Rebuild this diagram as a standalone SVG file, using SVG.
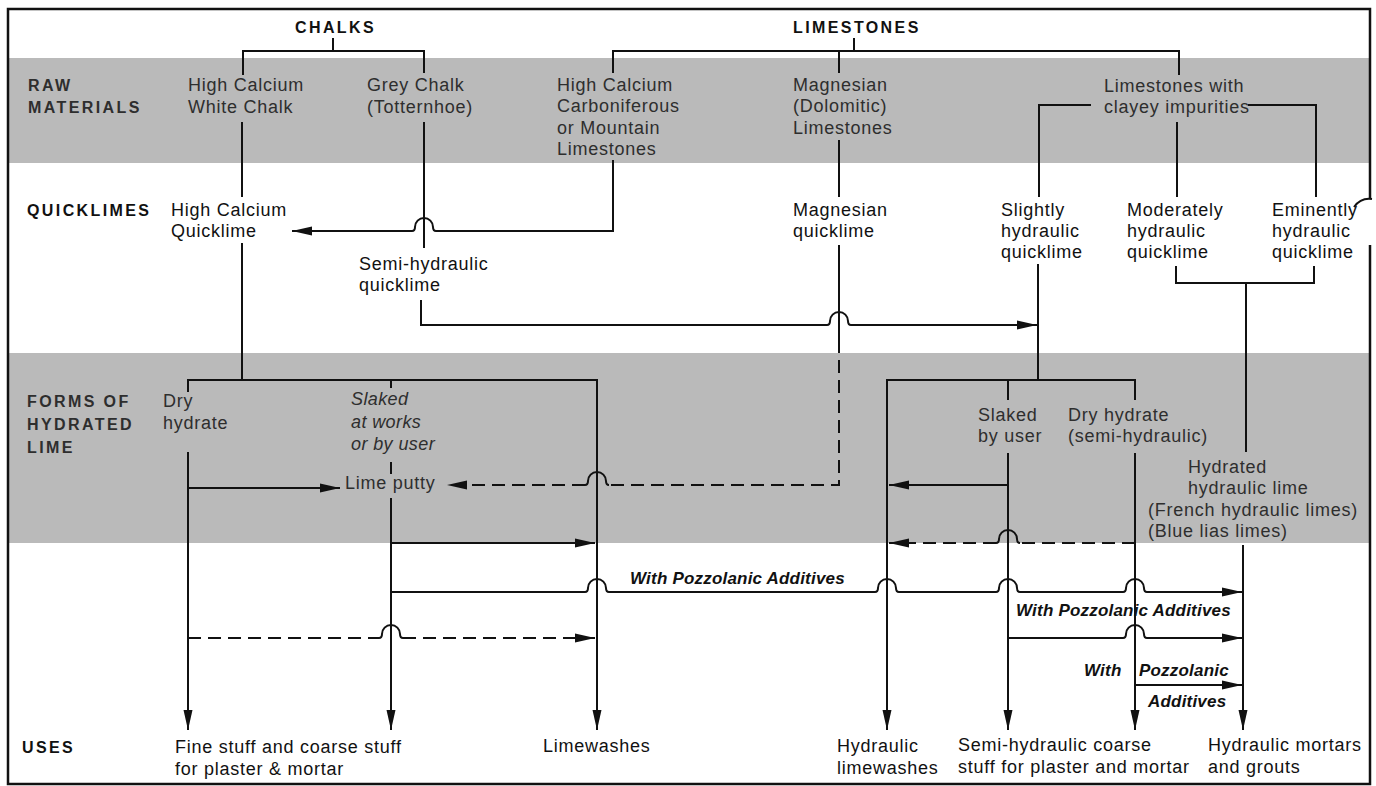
<svg xmlns="http://www.w3.org/2000/svg" width="1376" height="786" viewBox="0 0 1376 786">
<defs>
<style>
.t{font-family:"Liberation Sans",Arial,sans-serif;font-size:18px;letter-spacing:0.75px;fill:#111}
.g{fill:#2e2e2e}
.b{font-weight:bold;font-size:16px;letter-spacing:2.4px}
.i{font-style:italic;letter-spacing:0.4px}
.p{font-style:italic;font-weight:bold;font-size:17px;letter-spacing:0.2px}
.c{fill:none;stroke:#111;stroke-width:2}
.d{stroke-dasharray:13 7}
.a{marker-end:url(#ah)}
</style>
<marker id="ah" viewBox="0 0 20 10" refX="20" refY="5" markerWidth="20" markerHeight="10" markerUnits="userSpaceOnUse" orient="auto">
<path d="M0,0.5 L20,5 L0,9.5 Z" fill="#111"/>
</marker>
</defs>
<rect x="0" y="0" width="1376" height="786" fill="#fff"/>
<g id="bands">
<rect x="9" y="58" width="1360" height="105" fill="#bababa"/>
<rect x="9" y="353" width="1360" height="190" fill="#bababa"/>
</g>
<g id="frame" fill="none" stroke="#111" stroke-width="2.5">
<path d="M1370,245 V784 H8 V9 H1370 V198"/>
<path d="M1354,207 C1359,200 1365,198 1372,199" stroke-width="2"/>
</g>
<g id="row-labels" class="t b">
<text x="28" y="91" class="t b g">RAW</text>
<text x="28" y="113" class="t b g">MATERIALS</text>
<text x="27" y="216" class="t b">QUICKLIMES</text>
<text x="27" y="407" class="t b g">FORMS OF</text>
<text x="27" y="430" class="t b g">HYDRATED</text>
<text x="27" y="453" class="t b g">LIME</text>
<text x="22" y="753" class="t b">USES</text>
</g>
<g id="chalks"><text x="295" y="33" class="t b">CHALKS</text></g>
<g id="limestones"><text x="793" y="33" class="t b">LIMESTONES</text></g>
<g id="hc-white-chalk"><text class="t g" x="188" y="91">High Calcium</text><text class="t g" x="188" y="113">White Chalk</text></g>
<g id="grey-chalk"><text class="t g" x="367" y="91">Grey Chalk</text><text class="t g" x="367" y="113">(Totternhoe)</text></g>
<g id="hc-carboniferous"><text class="t g" x="557" y="91">High Calcium</text><text class="t g" x="557" y="112">Carboniferous</text><text class="t g" x="557" y="134">or Mountain</text><text class="t g" x="557" y="155">Limestones</text></g>
<g id="magnesian-limestones"><text class="t g" x="793" y="91">Magnesian</text><text class="t g" x="793" y="112">(Dolomitic)</text><text class="t g" x="793" y="134">Limestones</text></g>
<g id="clayey-limestones"><text class="t g" x="1104" y="92">Limestones with</text><text class="t g" x="1104" y="113">clayey impurities</text></g>
<g id="hc-quicklime"><text class="t" x="171" y="216">High Calcium</text><text class="t" x="171" y="237">Quicklime</text></g>
<g id="semi-hydraulic-quicklime"><text class="t" x="359" y="270">Semi-hydraulic</text><text class="t" x="359" y="291">quicklime</text></g>
<g id="magnesian-quicklime"><text class="t" x="793" y="216">Magnesian</text><text class="t" x="793" y="237">quicklime</text></g>
<g id="slightly-hydraulic"><text class="t" x="1001" y="216">Slightly</text><text class="t" x="1001" y="237">hydraulic</text><text class="t" x="1001" y="258">quicklime</text></g>
<g id="moderately-hydraulic"><text class="t" x="1127" y="216">Moderately</text><text class="t" x="1127" y="237">hydraulic</text><text class="t" x="1127" y="258">quicklime</text></g>
<g id="eminently-hydraulic"><text class="t" x="1272" y="216">Eminently</text><text class="t" x="1272" y="237">hydraulic</text><text class="t" x="1272" y="258">quicklime</text></g>
<g id="dry-hydrate"><text class="t g" x="163" y="407">Dry</text><text class="t g" x="163" y="429">hydrate</text></g>
<g id="slaked-works"><text class="t i g" x="351" y="405">Slaked</text><text class="t i g" x="351" y="428">at works</text><text class="t i g" x="351" y="450">or by user</text></g>
<g id="lime-putty"><text class="t g" x="345" y="489">Lime putty</text></g>
<g id="slaked-user"><text class="t g" x="978" y="421">Slaked</text><text class="t g" x="978" y="442">by user</text></g>
<g id="dry-hydrate-semi"><text class="t g" x="1068" y="421">Dry hydrate</text><text class="t g" x="1068" y="442">(semi-hydraulic)</text></g>
<g id="hydrated-hydraulic"><text class="t g" x="1188" y="473">Hydrated</text><text class="t g" x="1188" y="494">hydraulic lime</text><text class="t g" x="1148" y="516">(French hydraulic limes)</text><text class="t g" x="1148" y="537">(Blue lias limes)</text></g>
<g id="fine-coarse-stuff"><text class="t" x="175" y="753">Fine stuff and coarse stuff</text><text class="t" x="175" y="775">for plaster &amp; mortar</text></g>
<g id="limewashes"><text class="t" x="543" y="752">Limewashes</text></g>
<g id="hydraulic-limewashes"><text class="t" x="837" y="752">Hydraulic</text><text class="t" x="837" y="774">limewashes</text></g>
<g id="semi-hydraulic-coarse"><text class="t" x="958" y="751">Semi-hydraulic coarse</text><text class="t" x="958" y="773">stuff for plaster and mortar</text></g>
<g id="hydraulic-mortars"><text class="t" x="1208" y="751">Hydraulic mortars</text><text class="t" x="1208" y="773">and grouts</text></g>
<g id="connectors">
<path class="c" d="M333,38 V51 M243,75 V51 H424 V73"/>
<path class="c" d="M854,38 V51 M613,73 V51 H1179 V75 M839,51 V73"/>
<path class="c" d="M242,122 V197"/>
<path class="c" d="M424,122 V248"/>
<path class="c" d="M839,140 V197"/>
<path class="c" d="M1091,105 H1039 V197 M1248,105 H1316 V197 M1177,122 V197"/>
<path class="c a" d="M613,160 V231 H436 Q433,231 433,227 A9,9 0 0 0 415,227 Q415,231 412,231 H292"/>
<path class="c a" d="M421,300 V325 H827 Q830,325 830,321 A9,9 0 0 1 848,321 Q848,325 851,325 H1037"/>
<path class="c" d="M839,245 V340"/>
<path class="c d" d="M839,340 V485 H609"/>
<path class="c" d="M609,485 Q606,485 606,481 A9,9 0 0 0 588,481 Q588,485 585,485"/>
<path class="c d a" d="M585,485 H447"/>
<path class="c" d="M242,243 V380"/>
<path class="c a" d="M188,392 V380 H597 V730"/>
<path class="c" d="M391,380 V388 M391,462 V474"/>
<path class="c a" d="M188,452 V730"/>
<path class="c a" d="M188,488 H340"/>
<path class="c a" d="M391,498 V730"/>
<path class="c a" d="M391,543 H595"/>
<path class="c a" d="M391,592 H585 Q588,592 588,588 A9,9 0 0 1 606,588 Q606,592 609,592 H875 Q878,592 878,588 A9,9 0 0 1 896,588 Q896,592 899,592 H996 Q999,592 999,588 A9,9 0 0 1 1017,588 Q1017,592 1020,592 H1123 Q1126,592 1126,588 A9,9 0 0 1 1144,588 Q1144,592 1147,592 H1242"/>
<path class="c d" d="M188,638 H379"/>
<path class="c" d="M379,638 Q382,638 382,634 A9,9 0 0 1 400,634 Q400,638 403,638"/>
<path class="c d a" d="M403,638 H595"/>
<path class="c" d="M1038,264 V380"/>
<path class="c a" d="M1135,400 V380 H887 V730"/>
<path class="c" d="M1008,380 V400"/>
<path class="c a" d="M1008,453 V730"/>
<path class="c a" d="M1008,485 H889"/>
<path class="c a" d="M1135,453 V730"/>
<path class="c d" d="M1135,543 H1020"/>
<path class="c" d="M1020,543 Q1017,543 1017,539 A9,9 0 0 0 999,539 Q999,543 996,543"/>
<path class="c d a" d="M996,543 H889"/>
<path class="c" d="M1176,266 V283 H1314 V266 M1246,283 V452"/>
<path class="c a" d="M1243,545 V730"/>
<path class="c a" d="M1008,638 H1123 Q1126,638 1126,634 A9,9 0 0 1 1144,634 Q1144,638 1147,638 H1242"/>
<path class="c a" d="M1135,685 H1242"/>
</g>
<g id="pozzolanic-labels">
<text class="t p" x="630" y="584">With Pozzolanic Additives</text>
<text class="t p" x="1016" y="616">With Pozzolanic Additives</text>
<text class="t p" x="1084" y="676">With</text>
<text class="t p" x="1139" y="676">Pozzolanic</text>
<text class="t p" x="1148" y="707">Additives</text>
</g>
</svg>
